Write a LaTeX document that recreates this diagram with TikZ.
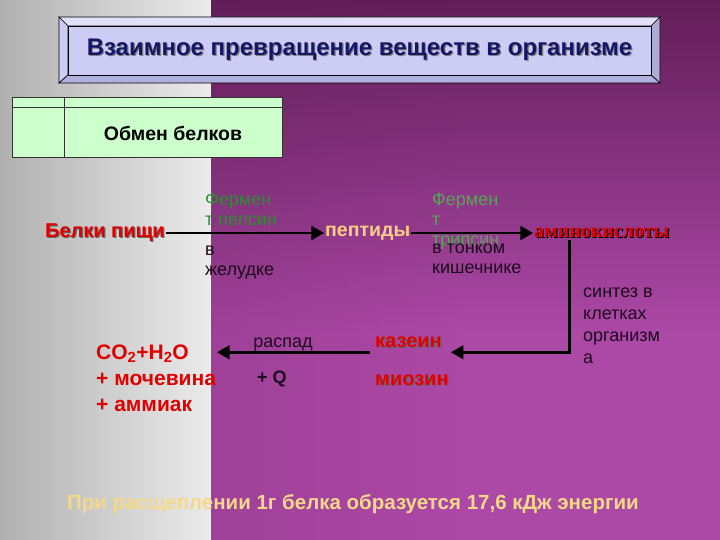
\documentclass[tikz,border=0pt]{standalone}
\usepackage{fontspec}
\setmainfont{Liberation Sans}
\newfontfamily\serifbold{Liberation Serif}
\usepackage{tikz}
\usetikzlibrary{arrows,fadings}

\definecolor{graylight}{HTML}{EBEBEB}
\definecolor{graydark}{HTML}{B0B0B0}
\definecolor{purpdark}{HTML}{5A1A50}
\definecolor{purpmid}{HTML}{AC48A6}
\definecolor{purpedge}{HTML}{7C2670}
\definecolor{lavender}{HTML}{CCCCF4}
\definecolor{navy}{HTML}{161668}
\definecolor{mint}{HTML}{CCFFCC}
\definecolor{redtext}{HTML}{E00000}
\definecolor{peach}{HTML}{FFCC88}
\definecolor{greentext}{HTML}{2E8E2E}
\definecolor{darktext}{HTML}{1C0C1C}
\definecolor{yellowtext}{HTML}{F5D888}

\pgfdeclarehorizontalshading{purpleback}{100bp}{color(0bp)=(purpdark); color(12bp)=(purpmid!75!purpdark);
  color(50bp)=(purpmid); color(82bp)=(purpmid); color(100bp)=(purpedge)}

% text with a small drop shadow
\newcommand{\shadowed}[2]{\rlap{\raisebox{-1.2pt}{\hspace{1.2pt}\textcolor{#1}{#2}}}#2}

\begin{document}
\begin{tikzpicture}[x=1pt, y=-1pt]
    \tikzstyle{plain text} = [inner sep=1pt, text=darktext, align=left, font=\fontsize{18}{20}\selectfont]
    \tikzstyle{green text} = [plain text, text=greentext]
    \tikzstyle{bold text} = [inner sep=1pt, font=\bfseries\fontsize{19.5}{22}\selectfont]
    \tikzstyle{red text} = [bold text, text=redtext, font=\bfseries\fontsize{20}{22}\selectfont]
    \tikzstyle{flow} = [draw=black, line width=2.5pt, -triangle 60]
\useasboundingbox (0,0) rectangle (720,540);
% background
\shade[left color=graydark, right color=graylight] (0,0) rectangle (211,540);
\shade[shading=purpleback] (211,0) rectangle (720,540);
\fill[purpdark, path fading=south, fill opacity=0.9] (211,0) rectangle (720,330);
% title frame
\fill[lavender!60!white, draw=black, line width=0.6pt] (59,17) -- (660,17) -- (651,26) -- (68,26) -- cycle;
\fill[lavender, draw=black, line width=0.6pt] (59,17) -- (68,26) -- (68,75) -- (59,83) -- cycle;
\fill[lavender!70!navy!80, draw=black, line width=0.6pt] (660,17) -- (660,83) -- (651,75) -- (651,26) -- cycle;
\fill[lavender!85!navy, draw=black, line width=0.6pt] (59,83) -- (660,83) -- (651,75) -- (68,75) -- cycle;
\node[draw=black, line width=0.6pt, fill=lavender, minimum width=583pt, minimum height=49pt, inner sep=0pt,
      text=navy, font=\bfseries\fontsize{24}{28}\selectfont] (title) at (359.5,50.5)
      {\shadowed{gray}{Взаимное превращение веществ в организме}};
% table
\node[draw=black!80, fill=mint, minimum width=270pt, minimum height=60pt, inner sep=0pt] (table) at (147,127) {};
\draw[black!80] (table.north west) ++(52,0) -- ++(0,60);
\draw[black!80] (table.north west) ++(0,10) -- ++(270,0);
\node[bold text] (exchange) at (173,133) {Обмен белков};
% top row
\node[red text, anchor=east] (food) at (166,233) {\shadowed{black!60}{Белки пищи}};
\node[bold text, text=peach, anchor=west] (peptides) at (324,233) {пептиды};
\node[inner sep=1pt, text=redtext, anchor=west, font=\serifbold\bfseries\fontsize{20}{22}\selectfont] (amino) at (533,233) {\shadowed{black}{аминокислоты}};
\node[green text, anchor=north west] (pepsin) at (204,192) {Фермен\\т пепсин};
\node[plain text, anchor=north west] (stomach) at (204,245) {в\\желудке};
\node[green text, text=greentext!80!white, anchor=north west] (trypsin) at (431,192) {Фермен\\т\\трипсин};
\node[plain text, anchor=north west] (intestine) at (431,243) {в тонком\\кишечнике};
\draw[flow] (food) -- (peptides);
\draw[flow] (peptides) -- (amino);
% synthesis and breakdown
\node[plain text, anchor=north west, font=\fontsize{18}{22}\selectfont] (synthesis) at (582,287) {синтез в\\клетках\\организм\\а};
\node[red text, anchor=west] (casein) at (374,343) {\shadowed{black!60}{казеин}};
\node[red text, anchor=west] (myosin) at (374,381) {\shadowed{black!60}{миозин}};
\node[red text, anchor=north west, align=left, font=\bfseries\fontsize{21}{26}\selectfont] (products) at (95,344)
      {CO\textsubscript{2}+H\textsubscript{2}O\\+ мочевина\\+ аммиак};
\node[plain text] (decay) at (283,345) {распад};
\node[bold text, text=darktext, font=\bfseries\fontsize{18}{20}\selectfont] (heat) at (272,379) {+ Q};
\draw[flow] ([xshift=-32pt]amino.south) |- ([xshift=8pt,yshift=-2pt]casein.south east);
\draw[flow] ([xshift=-4pt,yshift=-2pt]casein.south west) -- ([yshift=-2pt]casein.south west -| products.east);
% bottom line
\node[inner sep=1pt, text=yellowtext, font=\bfseries\fontsize{20.5}{24}\selectfont] (energy) at (353,504)
      {При расщеплении 1г белка образуется 17,6 кДж энергии};
\end{tikzpicture}
\end{document}
